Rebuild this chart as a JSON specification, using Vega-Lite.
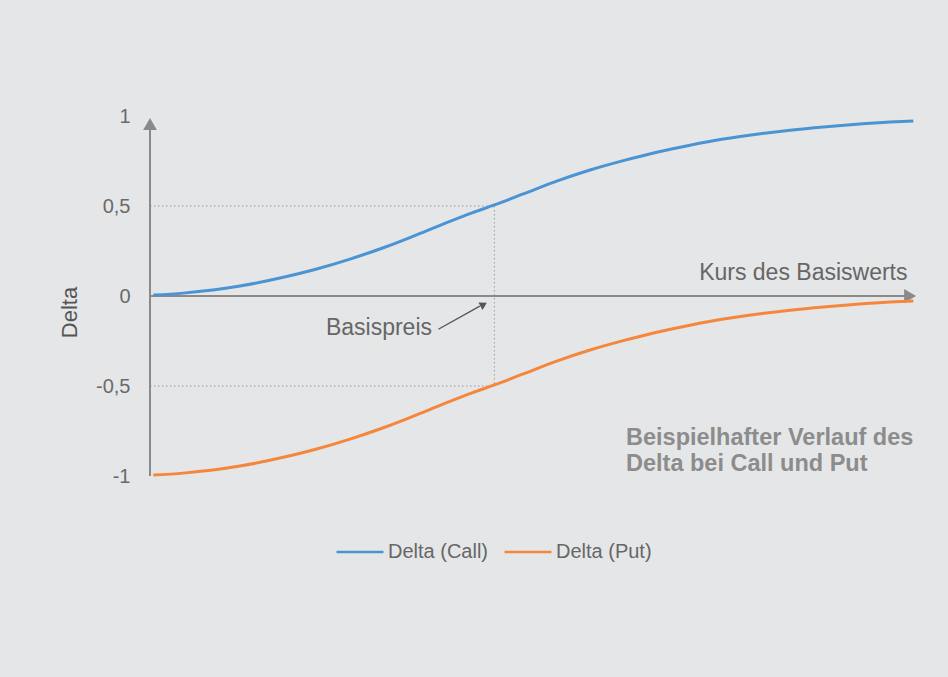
{
  "$schema": "https://vega.github.io/schema/vega-lite/v6.json",
  "width": 767,
  "height": 360,
  "autosize": {"type": "none"},
  "padding": {"left": 150, "top": 116, "right": 31, "bottom": 201},
  "background": "#e5e6e8",
  "config": {
    "view": {"stroke": null},
    "font": "Liberation Sans",
    "text": {"font": "Liberation Sans"}
  },
  "datasets": {
    "kurven": [
      {"kurs": 0.43, "delta": 0.005, "serie": "Delta (Call)"},
      {"kurs": 4.34, "delta": 0.016, "serie": "Delta (Call)"},
      {"kurs": 11.73, "delta": 0.055, "serie": "Delta (Call)"},
      {"kurs": 17.38, "delta": 0.104, "serie": "Delta (Call)"},
      {"kurs": 21.73, "delta": 0.15, "serie": "Delta (Call)"},
      {"kurs": 26.08, "delta": 0.205, "serie": "Delta (Call)"},
      {"kurs": 30.42, "delta": 0.268, "serie": "Delta (Call)"},
      {"kurs": 34.77, "delta": 0.34, "serie": "Delta (Call)"},
      {"kurs": 39.11, "delta": 0.415, "serie": "Delta (Call)"},
      {"kurs": 42.0, "delta": 0.462, "serie": "Delta (Call)"},
      {"kurs": 44.9, "delta": 0.506, "serie": "Delta (Call)"},
      {"kurs": 48.67, "delta": 0.567, "serie": "Delta (Call)"},
      {"kurs": 53.02, "delta": 0.638, "serie": "Delta (Call)"},
      {"kurs": 57.37, "delta": 0.7, "serie": "Delta (Call)"},
      {"kurs": 61.71, "delta": 0.752, "serie": "Delta (Call)"},
      {"kurs": 66.06, "delta": 0.799, "serie": "Delta (Call)"},
      {"kurs": 70.4, "delta": 0.838, "serie": "Delta (Call)"},
      {"kurs": 74.75, "delta": 0.872, "serie": "Delta (Call)"},
      {"kurs": 79.1, "delta": 0.899, "serie": "Delta (Call)"},
      {"kurs": 83.44, "delta": 0.921, "serie": "Delta (Call)"},
      {"kurs": 87.78, "delta": 0.939, "serie": "Delta (Call)"},
      {"kurs": 92.14, "delta": 0.954, "serie": "Delta (Call)"},
      {"kurs": 96.48, "delta": 0.966, "serie": "Delta (Call)"},
      {"kurs": 99.52, "delta": 0.972, "serie": "Delta (Call)"},
      {"kurs": 0.43, "delta": -0.995, "serie": "Delta (Put)"},
      {"kurs": 4.34, "delta": -0.984, "serie": "Delta (Put)"},
      {"kurs": 11.73, "delta": -0.945, "serie": "Delta (Put)"},
      {"kurs": 17.38, "delta": -0.896, "serie": "Delta (Put)"},
      {"kurs": 21.73, "delta": -0.85, "serie": "Delta (Put)"},
      {"kurs": 26.08, "delta": -0.795, "serie": "Delta (Put)"},
      {"kurs": 30.42, "delta": -0.732, "serie": "Delta (Put)"},
      {"kurs": 34.77, "delta": -0.66, "serie": "Delta (Put)"},
      {"kurs": 39.11, "delta": -0.585, "serie": "Delta (Put)"},
      {"kurs": 42.0, "delta": -0.538, "serie": "Delta (Put)"},
      {"kurs": 44.9, "delta": -0.494, "serie": "Delta (Put)"},
      {"kurs": 48.67, "delta": -0.433, "serie": "Delta (Put)"},
      {"kurs": 53.02, "delta": -0.362, "serie": "Delta (Put)"},
      {"kurs": 57.37, "delta": -0.3, "serie": "Delta (Put)"},
      {"kurs": 61.71, "delta": -0.248, "serie": "Delta (Put)"},
      {"kurs": 66.06, "delta": -0.201, "serie": "Delta (Put)"},
      {"kurs": 70.4, "delta": -0.162, "serie": "Delta (Put)"},
      {"kurs": 74.75, "delta": -0.128, "serie": "Delta (Put)"},
      {"kurs": 79.1, "delta": -0.101, "serie": "Delta (Put)"},
      {"kurs": 83.44, "delta": -0.079, "serie": "Delta (Put)"},
      {"kurs": 87.78, "delta": -0.061, "serie": "Delta (Put)"},
      {"kurs": 92.14, "delta": -0.046, "serie": "Delta (Put)"},
      {"kurs": 96.48, "delta": -0.034, "serie": "Delta (Put)"},
      {"kurs": 99.52, "delta": -0.028, "serie": "Delta (Put)"}
    ],
    "hilfslinien": [
      {"kurs": 0, "delta": 0.5, "kurs2": 44.9, "delta2": 0.5},
      {"kurs": 0, "delta": -0.5, "kurs2": 44.9, "delta2": -0.5},
      {"kurs": 44.9, "delta": 0.5, "kurs2": 44.9, "delta2": -0.5}
    ],
    "achsen": [
      {"kurs": 0, "delta": -1, "kurs2": 0, "delta2": 0.95},
      {"kurs": 0, "delta": 0, "kurs2": 98.6, "delta2": 0}
    ],
    "pfeilY": [{"kurs": 0, "delta": 0.956}],
    "pfeilX": [{"kurs": 99.1, "delta": 0}],
    "basisPfeil": [{"kurs": 37.6, "delta": -0.185, "kurs2": 43.0, "delta2": -0.056}],
    "basisSpitze": [{"kurs": 43.5, "delta": -0.047}],
    "basisText": [{"kurs": 36.77, "delta": -0.217, "text": "Basispreis"}],
    "hinweis": [
      {"kurs": 62.06, "delta": -0.826, "text": "Beispielhafter Verlauf des"},
      {"kurs": 62.06, "delta": -0.97, "text": "Delta bei Call und Put"}
    ]
  },
  "encoding": {
    "x": {
      "field": "kurs",
      "type": "quantitative",
      "scale": {"domain": [0, 100], "nice": false, "zero": false},
      "axis": {
        "title": "Kurs des Basiswerts",
        "domain": false,
        "ticks": false,
        "labels": false,
        "grid": false,
        "titleX": 757,
        "titleY": -197,
        "titleAlign": "right",
        "titleBaseline": "alphabetic",
        "titleFontSize": 23,
        "titleFontWeight": "normal",
        "titleColor": "#666666",
        "titleFont": "Liberation Sans"
      }
    },
    "y": {
      "field": "delta",
      "type": "quantitative",
      "scale": {"domain": [-1, 1], "nice": false, "zero": false},
      "axis": {
        "title": "Delta",
        "values": [-1, -0.5, 0, 0.5, 1],
        "labelExpr": "replace(toString(datum.value), '.', ',')",
        "domain": false,
        "ticks": false,
        "grid": false,
        "labelPadding": 20,
        "labelFontSize": 20,
        "labelColor": "#6a6a6a",
        "labelFont": "Liberation Sans",
        "titleX": -81,
        "titleY": 196,
        "titleAngle": 270,
        "titleAlign": "center",
        "titleBaseline": "middle",
        "titleFontSize": 22,
        "titleFontWeight": "normal",
        "titleColor": "#555555",
        "titleFont": "Liberation Sans"
      }
    }
  },
  "layer": [
    {
      "data": {"name": "hilfslinien"},
      "mark": {"type": "rule", "color": "#9a9a9a", "strokeWidth": 1, "strokeDash": [1.5, 2.5]},
      "encoding": {"x2": {"field": "kurs2"}, "y2": {"field": "delta2"}}
    },
    {
      "data": {"name": "achsen"},
      "mark": {"type": "rule", "color": "#8a8a8a", "strokeWidth": 2},
      "encoding": {"x2": {"field": "kurs2"}, "y2": {"field": "delta2"}}
    },
    {
      "data": {"name": "pfeilY"},
      "mark": {"type": "point", "shape": "triangle-up", "size": 190, "filled": true, "color": "#8a8a8a", "opacity": 1}
    },
    {
      "data": {"name": "pfeilX"},
      "mark": {"type": "point", "shape": "triangle-right", "size": 190, "filled": true, "color": "#8a8a8a", "opacity": 1}
    },
    {
      "data": {"name": "kurven"},
      "mark": {"type": "line", "strokeWidth": 3, "interpolate": "monotone"},
      "encoding": {
        "color": {
          "field": "serie",
          "type": "nominal",
          "scale": {"domain": ["Delta (Call)", "Delta (Put)"], "range": ["#4a94d4", "#f5873c"]},
          "legend": {
            "title": null,
            "orient": "none",
            "legendX": 185,
            "legendY": 411,
            "direction": "horizontal",
            "symbolType": "stroke",
            "symbolSize": 2209,
            "symbolStrokeWidth": 2.5,
            "labelFontSize": 20,
            "labelColor": "#666666",
            "labelFont": "Liberation Sans",
            "labelOffset": 3,
            "columnPadding": 10,
            "padding": 0
          }
        }
      }
    },
    {
      "data": {"name": "basisPfeil"},
      "mark": {"type": "rule", "color": "#555555", "strokeWidth": 1.3},
      "encoding": {"x2": {"field": "kurs2"}, "y2": {"field": "delta2"}}
    },
    {
      "data": {"name": "basisSpitze"},
      "mark": {"type": "point", "shape": "triangle-right", "size": 70, "filled": true, "color": "#555555", "opacity": 1, "angle": 331}
    },
    {
      "data": {"name": "basisText"},
      "mark": {"type": "text", "align": "right", "baseline": "alphabetic", "fontSize": 23, "color": "#666666"},
      "encoding": {"text": {"field": "text"}}
    },
    {
      "data": {"name": "hinweis"},
      "mark": {"type": "text", "align": "left", "baseline": "alphabetic", "fontSize": 23.5, "fontWeight": "bold", "font": "Liberation Sans", "color": "#8c8c8c"},
      "encoding": {"text": {"field": "text"}}
    }
  ]
}
